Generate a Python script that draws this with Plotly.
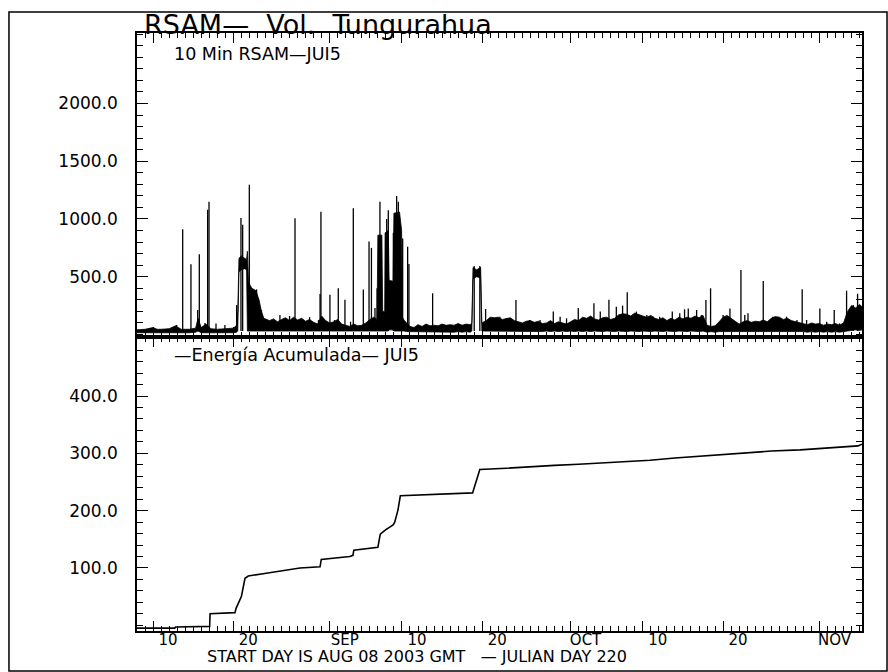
import datetime
import plotly.graph_objects as go

START = datetime.datetime(2003, 8, 8)

# ---------------- data (day offsets from START) ----------------
# 10-min RSAM: envelope of the dense noise band (low / high)
env_day = [0, 1, 2, 2.5, 3, 4, 4.8, 5.5, 6.5, 7.3,
           7.6, 8, 8.6, 9.2, 10, 11, 12, 12.4, 12.55, 12.7,
           13.0, 13.4, 13.65, 13.75, 13.9, 14.3, 14.8, 15.2, 15.5, 15.8,
           16.5, 17, 17.5, 18, 18.5, 19, 19.5, 20, 20.5, 21,
           21.5, 22, 22.5, 23, 23.5, 24, 24.5, 25, 25.5, 26,
           26.5, 27, 27.5, 28, 28.5, 29, 29.5, 29.9, 30.0, 30.5,
           30.6, 30.85, 30.9, 31.3, 31.4, 31.9, 32.0, 32.7, 32.96, 33.05,
           33.3, 33.6, 34, 34.5, 35, 35.5, 36, 36.5, 37, 37.5,
           38, 38.5, 39, 39.5, 40, 40.5, 41, 41.5, 41.7, 41.85,
           42.3, 42.8, 42.95, 43.5, 44, 44.5, 45, 45.5, 46, 46.5,
           47, 47.5, 48, 48.5, 49, 49.5, 50, 50.5, 51, 51.5,
           52, 52.5, 53, 53.5, 54, 54.5, 55, 55.5, 56, 56.5,
           57, 57.5, 58, 58.5, 59, 59.5, 60, 60.5, 61, 61.5,
           62, 62.5, 63, 63.5, 64, 64.5, 65, 65.5, 66, 66.5,
           67, 67.5, 68, 68.5, 69, 69.5, 70, 70.5, 71, 71.5,
           72, 72.5, 73, 73.5, 74, 74.5, 75, 75.5, 76, 76.5,
           77, 77.5, 78, 78.5, 79, 79.5, 80, 80.5, 81, 81.5,
           82, 82.5, 83, 83.5, 84, 84.5, 85, 85.5, 86, 86.5,
           87, 87.5, 88, 88.5, 89, 89.5, 90, 90.3]
env_low = [15, 15, 20, 18, 15, 15, 20, 15, 15, 20,
           30, 15, 20, 15, 15, 15, 15, 20, 30, 540,
           560, 570, 560, 30, 30, 30, 30, 30, 30, 30,
           30, 30, 25, 30, 30, 25, 30, 30, 25, 30,
           25, 30, 25, 30, 30, 25, 30, 25, 30, 25,
           30, 25, 30, 25, 25, 30, 30, 30, 30, 30,
           30, 30, 30, 30, 40, 40, 30, 30, 30, 30,
           30, 25, 25, 20, 20, 20, 20, 20, 25, 20,
           20, 25, 20, 20, 25, 20, 25, 20, 30, 480,
           500, 490, 30, 25, 30, 30, 25, 30, 25, 30,
           25, 30, 25, 30, 25, 30, 25, 25, 30, 25,
           30, 25, 30, 25, 30, 25, 30, 25, 30, 25,
           30, 30, 25, 30, 30, 25, 30, 30, 25, 30,
           30, 25, 30, 30, 25, 30, 30, 25, 30, 30,
           25, 30, 30, 25, 30, 30, 25, 30, 20, 25,
           20, 25, 30, 30, 25, 30, 25, 30, 25, 30,
           25, 30, 25, 30, 25, 30, 30, 25, 30, 25,
           30, 25, 25, 20, 25, 20, 25, 20, 25, 20,
           25, 20, 25, 30, 35, 40, 35, 40]
env_high = [40, 45, 60, 45, 45, 50, 75, 45, 45, 55,
            140, 60, 90, 50, 45, 50, 55, 80, 200, 660,
            680, 660, 650, 720, 450, 400, 380, 300, 200, 140,
            120, 135, 110, 130, 145, 120, 150, 125, 140, 115,
            130, 105, 90, 160, 120, 100, 110, 130, 90, 80,
            70, 90, 75, 80, 100, 130, 150, 130, 860, 860,
            200, 200, 880, 900, 470, 460, 1050, 1060, 900, 150,
            120, 100, 70, 60, 85, 70, 90, 75, 80, 75,
            90, 80, 85, 80, 95, 80, 90, 85, 100, 580,
            560, 580, 100, 120, 150, 145, 150, 130, 140, 145,
            120, 110, 100, 115, 120, 105, 115, 95, 100, 120,
            95, 110, 100, 90, 110, 130, 120, 150, 140, 160,
            135, 125, 145, 150, 130, 140, 170, 180, 175, 160,
            185, 170, 160, 150, 165, 140, 130, 145, 120, 140,
            125, 150, 135, 150, 140, 160, 145, 165, 80, 70,
            75, 110, 150, 165, 140, 120, 90, 110, 120, 105,
            115, 110, 125, 110, 140, 155, 150, 130, 140, 120,
            110, 100, 90, 85, 100, 90, 95, 80, 90, 85,
            95, 80, 100, 200, 250, 230, 260, 240]

# isolated RSAM spikes (day offset, peak value)
spike_day = [5.69, 6.72, 7.56, 7.76, 8.47, 8.8, 8.97, 12.41, 12.95, 13.16, 13.99, 15.3,
             19.68, 22.8, 22.91, 24.03, 25.07, 25.9, 26.94, 28.19, 28.9, 29.2, 29.64, 29.9,
             30.26, 31.1, 31.3, 31.93, 32.34, 32.55, 33.09, 33.71, 33.87, 36.82, 42.0, 42.7,
             43.42, 47.2, 51.85, 54.96, 56.91, 58.78, 60.48, 61.06, 66.67, 68.66, 70.86,
             71.44, 73.85, 75.22, 78.0, 82.85, 85.05, 86.84, 88.38, 89.75]
spike_val = [911, 608, 212, 694, 100, 1080, 1150, 255, 1008, 950, 1297, 212,
             1006, 350, 1063, 345, 400, 300, 1093, 390, 804, 750, 230, 400,
             1150, 1000, 1076, 880, 1199, 1150, 830, 760, 610, 357, 593, 593,
             220, 298, 200, 230, 270, 300, 250, 365, 200, 226, 298,
             400, 226, 558, 463, 391, 226, 212, 379, 353]

# small spikes riding on the noise band (day offset, peak value)
small_day = [4.94, 9.84, 10.95, 14.9, 15.5, 17.8, 19.0, 21.5, 22.6, 24.6, 26.6,
             45.2, 46.0, 48.9, 50.2, 52.7, 53.5, 56.0, 57.7, 59.7, 62.2, 63.5, 64.3, 65.1,
             67.6, 68.2, 69.7, 70.3, 73.0, 73.4, 75.7, 76.1, 79.2, 80.1, 80.9, 82.2, 83.4,
             84.2, 85.9, 87.5, 89.2]
small_val = [82, 96, 82, 390, 212, 168, 160, 150, 125, 125, 110,
             154, 140, 125, 125, 154, 140, 125, 198, 241, 198, 168, 154, 154,
             183, 218, 212, 168, 168, 140, 168, 183, 154, 140, 154, 125, 125,
             96, 111, 96, 255]
SPIKE_BASE = 30

# accumulated energy
energy_day = [0, 4.7, 4.8, 7.8, 9.05, 9.1, 12.2, 12.35, 12.6, 13.0, 13.45, 13.86, 15.7,
              18.2, 20.3, 22.8, 22.95, 26.5, 26.9, 27.0, 30.0, 30.3, 31.0, 31.9, 32.1,
              32.5, 32.8, 41.8, 42.2, 42.7, 46, 48.9, 52, 55, 57.7, 61, 63.9, 67, 70.1,
              73, 76.3, 79, 82.6, 85, 88.8, 89.8, 90.3]
energy_val = [-5, -5, -3, -2, -2, 20, 22, 30, 37, 50, 82, 86, 90,
              95, 100, 102, 115, 120, 122, 131, 136, 159, 167, 175, 180,
              201, 226, 231, 250, 272, 274, 277, 279, 281, 283, 286, 288, 292, 295,
              299, 302, 304, 306, 308, 311, 313, 316]

# axis ticks
xtick_dates = ["2003-08-10", "2003-08-20", "2003-09-01", "2003-09-10", "2003-09-20",
               "2003-10-01", "2003-10-10", "2003-10-20", "2003-11-01"]
xtick_text = ["10", "20", "SEP", "10", "20", "OCT", "10", "20", "NOV"]
rsam_ticks = [500, 1000, 1500, 2000]
rsam_ticktext = ["500.0", "1000.0", "1500.0", "2000.0"]
energy_ticks = [100, 200, 300, 400]
energy_ticktext = ["100.0", "200.0", "300.0", "400.0"]

# ---------------- helpers ----------------
def to_date(d):
    return START + datetime.timedelta(days=d)

FONT = "DejaVu Sans"
X_END = to_date(90.3)

fig = go.Figure()

# RSAM noise band
band_x = [to_date(d) for d in env_day] + [to_date(d) for d in reversed(env_day)]
band_y = list(env_high) + list(reversed(env_low))
fig.add_trace(go.Scatter(x=band_x, y=band_y, mode="lines", fill="toself",
                         fillcolor="black", line=dict(color="black", width=0.8),
                         xaxis="x2", yaxis="y2", hoverinfo="skip"))

# RSAM spikes
sx, sy = [], []
for d, v in list(zip(spike_day, spike_val)) + list(zip(small_day, small_val)):
    sx += [to_date(d), to_date(d), None]
    sy += [SPIKE_BASE, v, None]
fig.add_trace(go.Scatter(x=sx, y=sy, mode="lines", line=dict(color="black", width=1.3),
                         xaxis="x2", yaxis="y2", connectgaps=False))

# accumulated energy
fig.add_trace(go.Scatter(x=[to_date(d) for d in energy_day], y=energy_val, mode="lines",
                         line=dict(color="black", width=1.6), xaxis="x", yaxis="y"))

TOP_DOM = 0.4916
axis_common = dict(showline=True, linecolor="black", linewidth=1.5, mirror="ticks",
                   ticks="inside", tickcolor="black", showgrid=False, zeroline=False)

xaxis_common = dict(axis_common, type="date", range=[START, X_END],
                    tickmode="array", tickvals=xtick_dates, ticktext=xtick_text,
                    ticklen=10, tickwidth=1.2,
                    minor=dict(ticks="inside", ticklen=5, tickwidth=1,
                               tickcolor="black", dtick=86400000, tick0="2003-08-08"))

fig.update_layout(
    width=888, height=672,
    margin=dict(l=137, r=26, t=33, b=41),
    paper_bgcolor="white", plot_bgcolor="white",
    showlegend=False,
    xaxis=dict(xaxis_common, domain=[0, 1], anchor="y",
               tickfont=dict(family=FONT, size=15, color="black"),
               ticklabelshift=15, ticklabelstandoff=-6),
    xaxis2=dict(xaxis_common, domain=[0, 1], anchor="y2", matches="x",
                showticklabels=False),
    yaxis=dict(axis_common, domain=[0, TOP_DOM], anchor="x", range=[-10, 503],
               tickmode="array", tickvals=energy_ticks, ticktext=energy_ticktext,
               ticklen=11, tickwidth=1.2, ticklabelstandoff=14,
               tickfont=dict(family=FONT, size=17, color="black"),
               minor=dict(ticks="inside", ticklen=6, tickwidth=1, tickcolor="black",
                          dtick=20, tick0=0)),
    yaxis2=dict(axis_common, domain=[TOP_DOM, 1], anchor="x2", range=[-22, 2610],
                tickmode="array", tickvals=rsam_ticks, ticktext=rsam_ticktext,
                ticklen=11, tickwidth=1.2, ticklabelstandoff=14,
                tickfont=dict(family=FONT, size=17, color="black"),
                minor=dict(ticks="inside", ticklen=6, tickwidth=1, tickcolor="black",
                           dtick=100, tick0=0)),
)

# outer frame
fig.add_shape(type="rect", xref="paper", yref="paper",
              x0=-0.1766, x1=1.0345, y0=-0.0669, y1=1.0351,
              line=dict(color="black", width=1.5), layer="above")

annots = [
    dict(text="RSAM—\u00a0\u00a0Vol.\u00a0\u00a0Tungurahua", x=0, y=1, xanchor="left",
         yanchor="bottom", xshift=5, yshift=-9,
         font=dict(family=FONT, size=27, color="black")),
    dict(text="10 Min RSAM—JUI5", x=0.048, y=0.965, xanchor="left", yanchor="middle",
         font=dict(family=FONT, size=17.5, color="black")),
    dict(text="—Energía Acumulada— JUI5", x=0.048, y=0.462, xanchor="left",
         yanchor="middle", font=dict(family=FONT, size=17.5, color="black")),
    dict(text="START DAY IS AUG 08 2003 GMT\u00a0\u00a0\u00a0\u2014\u00a0JULIAN DAY 220",
         x=0.094, y=-0.043, xanchor="left", yanchor="middle",
         font=dict(family=FONT, size=16, color="black")),
]
for a in annots:
    fig.add_annotation(xref="paper", yref="paper", showarrow=False, **a)

fig.write_html("out.html")
